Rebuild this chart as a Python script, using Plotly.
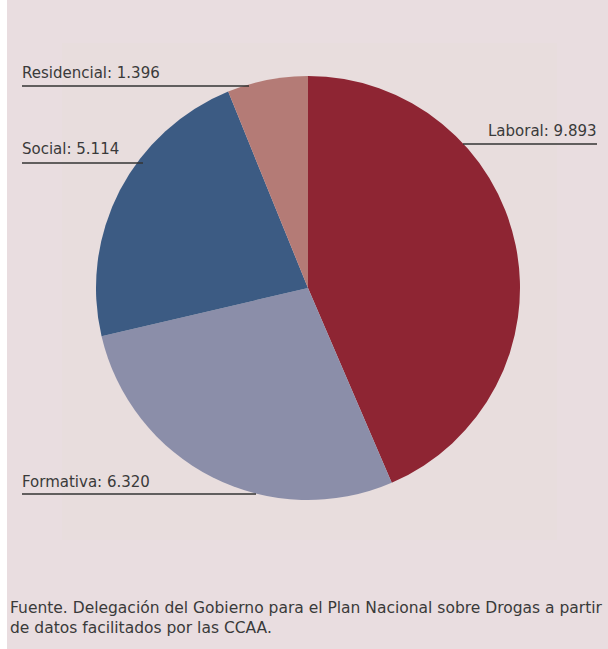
import plotly.graph_objects as go

# Programas de prevención por ámbito
categorias = ["Laboral", "Formativa", "Social", "Residencial"]
valores = [9893, 6320, 5114, 1396]
etiquetas_valor = ["9.893", "6.320", "5.114", "1.396"]
colores = ["#8e2533", "#8b8ea9", "#3c5b83", "#b47b76"]

W, H = 608, 649


def px(x):
    return x / W


def py(y):
    return 1 - y / H


cx, cy, r = 308, 288, 212

fig = go.Figure(
    go.Pie(
        labels=categorias,
        values=valores,
        sort=False,
        direction="clockwise",
        rotation=0,
        marker=dict(colors=colores, line=dict(width=0)),
        textinfo="none",
        hoverinfo="label+value",
        domain=dict(x=[px(cx - r), px(cx + r)], y=[py(cy + r), py(cy - r)]),
        showlegend=False,
    )
)

shapes = [
    # white strip on the left edge
    dict(type="rect", xref="paper", yref="paper", x0=0, x1=px(7), y0=0, y1=1,
         fillcolor="#ffffff", line=dict(width=0), layer="below"),
    # inner chart panel
    dict(type="rect", xref="paper", yref="paper", x0=px(62), x1=px(557),
         y0=py(540), y1=py(43), fillcolor="#e8dddd", line=dict(width=0), layer="below"),
]

# label placement: text x, text centre y, anchor, leader x0, x1, leader y
colocacion = {
    "Residencial": (20, 73, "left", 22, 249, 86),
    "Social": (20, 149, "left", 22, 143, 163),
    "Laboral": (599, 131, "right", 463, 597, 144),
    "Formativa": (20, 482, "left", 22, 256, 494),
}

anotaciones = []
for cat, val in zip(categorias, etiquetas_valor):
    x, y, anc, lx0, lx1, ly = colocacion[cat]
    anotaciones.append(dict(
        text=f"{cat}: {val}", xref="paper", yref="paper", x=px(x), y=py(y),
        xanchor=anc, yanchor="middle", showarrow=False,
        font=dict(family="DejaVu Sans", size=15, color="#3a3a3a"),
    ))
    shapes.append(dict(type="line", xref="paper", yref="paper",
                       x0=px(lx0), x1=px(lx1), y0=py(ly), y1=py(ly),
                       line=dict(color="#333333", width=1.4)))

anotaciones.append(dict(
    text="Fuente. Delegación del Gobierno para el Plan Nacional sobre Drogas a partir<br>"
         "de datos facilitados por las CCAA.",
    xref="paper", yref="paper", x=px(8), y=py(597), xanchor="left", yanchor="top",
    align="left", showarrow=False,
    font=dict(family="DejaVu Sans", size=15.5, color="#3a3a3a"),
))

fig.update_layout(
    width=W, height=H,
    margin=dict(l=0, r=0, t=0, b=0),
    paper_bgcolor="#e9dde0",
    plot_bgcolor="#e9dde0",
    shapes=shapes,
    annotations=anotaciones,
)

fig.write_html("out.html")
